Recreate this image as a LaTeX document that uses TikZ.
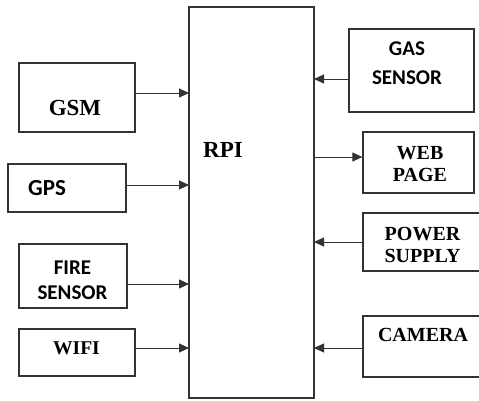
\documentclass[tikz,border=0pt]{standalone}
\usepackage{fontspec}
\setmainfont{Liberation Serif}
\newfontfamily\calfont{Carlito}
\usetikzlibrary{arrows.meta}

\tikzset{
  box/.style={draw=black!80, line width=1.2pt, inner sep=0pt, fill=white},
  arr/.style={draw=black!80, line width=1pt, -{Triangle[length=10pt,width=9pt]}},
  serif/.style={inner sep=0pt, align=center, font=\bfseries\fontsize{#1}{#1}\selectfont},
  sans/.style={inner sep=0pt, align=center, font=\calfont\bfseries\fontsize{#1}{#1}\selectfont},
}

\begin{document}
\begin{tikzpicture}[x=1pt, y=-1pt]
  \useasboundingbox (0,0) rectangle (479,400);
  \clip (0,0) rectangle (479,400);

  % central controller
  \node[box, minimum width=125pt, minimum height=391pt] (rpi) at (251.5,202.5) {};
  \node[serif=23] (rpilbl) at (223,150) {RPI};

  % inputs on the left
  \node[box, minimum width=116pt, minimum height=69pt] (gsm) at (77,97.5) {};
  \node[serif=23] (gsmlbl) at (75,108) {GSM};

  \node[box, minimum width=118pt, minimum height=48pt] (gps) at (67,188) {};
  \node[sans=23] (gpslbl) at (47,188) {GPS};

  \node[box, minimum width=108pt, minimum height=64pt] (fire) at (73,276) {};
  \node[sans=21, font=\calfont\bfseries\fontsize{21}{25}\selectfont] (firelbl) at (72.5,280) {FIRE\\SENSOR};

  \node[box, minimum width=116pt, minimum height=47pt] (wifi) at (77,352.5) {};
  \node[serif=19.5] (wifilbl) at (76.5,348) {WIFI};

  % devices on the right
  \node[box, minimum width=125pt, minimum height=83pt] (gas) at (411.5,70.5) {};
  \node[sans=21, font=\calfont\bfseries\fontsize{21}{29}\selectfont] (gaslbl) at (407,63) {GAS\\SENSOR};

  \node[box, minimum width=111pt, minimum height=61pt] (web) at (418.5,162.5) {};
  \node[serif=20, font=\bfseries\fontsize{20}{22}\selectfont] (weblbl) at (420,164.5) {WEB\\PAGE};

  \node[box, minimum width=124pt, minimum height=58pt] (power) at (425,242) {};
  \node[serif=20, font=\bfseries\fontsize{20}{22}\selectfont] (powerlbl) at (422.5,244.5) {POWER\\SUPPLY};

  \node[box, minimum width=124pt, minimum height=61pt] (camera) at (425,346.5) {};
  \node[serif=20] (cameralbl) at (423,335) {CAMERA};

  % arrow end points on the controller edges
  \coordinate (pgsm) at (189,93);
  \coordinate (pgps) at (189,185);
  \coordinate (pfire) at (189,284);
  \coordinate (pwifi) at (189,348);
  \coordinate (pgas) at (314,79);
  \coordinate (pweb) at (314,157);
  \coordinate (ppower) at (314,242);
  \coordinate (pcamera) at (314,348);

  % connectors
  \draw[arr] (gsm.east |- pgsm) -- (pgsm);
  \draw[arr] (gps.east |- pgps) -- (pgps);
  \draw[arr] (fire.east |- pfire) -- (pfire);
  \draw[arr] (wifi.east |- pwifi) -- (pwifi);
  \draw[arr] (gas.west |- pgas) -- (pgas);
  \draw[arr] (pweb) -- (web.west |- pweb);
  \draw[arr] (power.west |- ppower) -- (ppower);
  \draw[arr] (camera.west |- pcamera) -- (pcamera);
\end{tikzpicture}
\end{document}
